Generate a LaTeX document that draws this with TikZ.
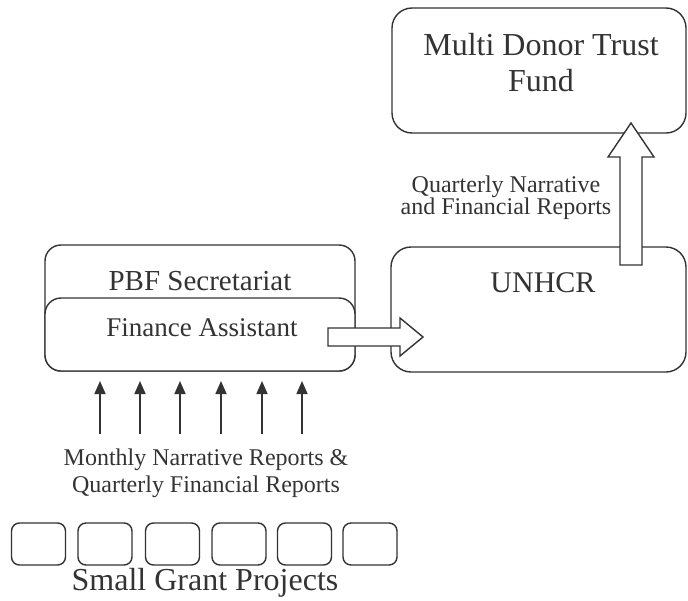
\documentclass[tikz,border=0pt]{standalone}
\usepackage{fontspec}
\setmainfont{Liberation Serif}
\usetikzlibrary{arrows.meta,calc}
\definecolor{ink}{HTML}{333333}
\tikzset{
  box/.style={draw=ink, line width=1.4pt, rounded corners=#1, inner sep=0pt, fill=white},
  box/.default=16pt,
  lbl/.style={text=ink, inner sep=0pt, align=center},
  blockarrow/.style={draw=ink, line width=1.4pt, fill=white, line join=miter},
  thinarrow/.style={draw=ink, line width=1.6pt, -{Triangle[width=11pt,length=13pt]}}
}
\begin{document}
\begin{tikzpicture}[x=1pt,y=-1pt]
\useasboundingbox (0,0) rectangle (688,600);
% boxes
\node[box=20pt, minimum width=294pt, minimum height=125pt] (mdtf) at (539,70.5) {};
\node[lbl, font=\fontsize{32}{36}\selectfont] (mdtft) at (541,63) {Multi Donor Trust\\Fund};
\node[box=20pt, minimum width=295pt, minimum height=125pt] (unhcr) at (538.5,309.5) {};
\node[lbl, font=\fontsize{30}{31}\selectfont] (unhcrt) at (543,283) {UNHCR};
\node[box=16pt, minimum width=310pt, minimum height=126pt] (pbf) at (200,308) {};
\node[lbl, font=\fontsize{29}{30}\selectfont] (pbft) at (200,281) {PBF Secretariat};
\node[box=16pt, minimum width=310pt, minimum height=73pt] (fa) at (200,334.5) {};
\node[lbl, font=\fontsize{27}{28}\selectfont] (fat) at (202,328) {Finance Assistant};
% block arrow up
\draw[blockarrow] (620,265) -- (642,265) -- (642,157) -- (654,157) -- (631,123) -- (608,157) -- (620,157) -- cycle;
% block arrow right
\draw[blockarrow] (328,328) -- (400,328) -- (400,318) -- (423,337) -- (400,356) -- (400,346) -- (328,346) -- cycle;
% label upper
\node[lbl, font=\fontsize{24}{22}\selectfont] (qlbl) at (506,198) {Quarterly Narrative\\and Financial Reports};
% monthly label
\node[lbl, font=\fontsize{24}{27}\selectfont] (mlbl) at (206,473) {Monthly Narrative Reports \&\\Quarterly Financial Reports};
% thin arrows
\foreach \i/\x in {1/100,2/140,3/180,4/221,5/262,6/302} {
  \coordinate (s\i) at (\x,434);
  \coordinate (e\i) at (\x,381);
  \draw[thinarrow] (s\i) -- (e\i);
}
% small boxes
\foreach \i/\x in {1/38.5,2/105,3/172.5,4/239,5/304.5,6/370} {
  \node[box=8pt, minimum width=54pt, minimum height=42pt] (p\i) at (\x,544) {};
}
\node[lbl, font=\fontsize{32}{33}\selectfont, anchor=base] (sgp) at (205,590) {Small Grant Projects};
\end{tikzpicture}
\end{document}
